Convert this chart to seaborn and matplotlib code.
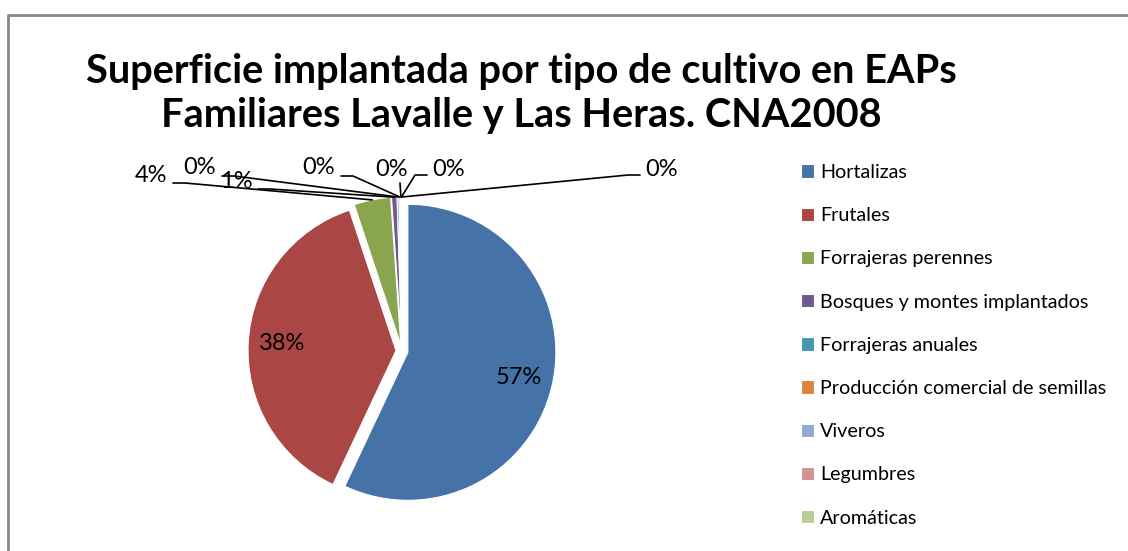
import matplotlib
matplotlib.use("Agg")
import matplotlib.pyplot as plt
import seaborn as sns
import numpy as np

# Data (shares of implanted area, %)
cultivos = ["Hortalizas", "Frutales", "Forrajeras perennes",
            "Bosques y montes implantados", "Forrajeras anuales",
            "Producción comercial de semillas", "Viveros", "Legumbres",
            "Aromáticas"]
superficie = [57.0, 37.9, 4.0, 0.6, 0.2, 0.15, 0.08, 0.04, 0.03]

colores = ["#4572A7", "#AA4643", "#89A54E", "#71588F", "#4198AF",
           "#DB843D", "#93A9CF", "#D19392", "#B9CD96"]

sns.set_style("white")
plt.rcParams['font.family'] = ['Lato', 'DejaVu Sans']
plt.rcParams['text.color'] = 'black'

W, H = 1128, 551
fig = plt.figure(figsize=(W / 100, H / 100), dpi=100)
ax = fig.add_axes([0, 0, 1, 1])

# pie drawn in pixel-like data coords (y up)
cx, cy, r = 402, H - 351, 148
pal = sns.color_palette(colores)
wedges, _ = ax.pie(superficie, colors=pal, startangle=90, counterclock=False,
                   center=(cx, cy), radius=r, explode=[6] * len(superficie),
                   wedgeprops=dict(edgecolor="white", linewidth=0.8))
ax.set_xlim(0, W)
ax.set_ylim(0, H)
ax.set_aspect("equal")
ax.axis("off")

pct = [100 * v / sum(superficie) for v in superficie]

def edge_point(w, frac=1.0):
    th = np.deg2rad((w.theta1 + w.theta2) / 2)
    return w.center[0] + frac * w.r * np.cos(th), w.center[1] + frac * w.r * np.sin(th)

# inside labels for the two big slices
for i in range(2):
    x, y = edge_point(wedges[i], 0.77)
    ax.text(x, y, f"{pct[i]:.0f}%", ha="center", va="center", fontsize=17)

# outside labels with leader lines (text position in px, side of the line)
posiciones = {2: (151, 175, "r"), 3: (236, 181, "r"), 4: (200, 168, "r"),
              5: (319, 168, "r"), 6: (392, 170, "d"), 7: (449, 170, "l"),
              8: (662, 170, "l")}
for i, (tx, ty, side) in posiciones.items():
    ty = H - ty
    ax.text(tx, ty, f"{pct[i]:.0f}%", ha="center", va="center", fontsize=17)
    ex, ey = edge_point(wedges[i])
    if side == "r":
        pts = [(tx + 22, ty - 8), (tx + 34, ty - 8), (ex, ey)]
    elif side == "l":
        pts = [(tx - 22, ty - 5), (tx - 34, ty - 5), (ex, ey)]
    else:
        pts = [(tx + 8, ty - 13), (ex, ey)]
    xs, ys = zip(*pts)
    ax.plot(xs, ys, color="black", lw=1.2)

# title
ax.text(521, H - 71, "Superficie implantada por tipo de cultivo en EAPs",
        ha="center", va="center", fontsize=28.6, fontweight="bold")
ax.text(521, H - 116, "Familiares Lavalle y Las Heras. CNA2008",
        ha="center", va="center", fontsize=28.6, fontweight="bold")

# legend
ax.legend(wedges, cultivos, loc="upper left", bbox_to_anchor=(791 / W, 1 - 154 / H),
          bbox_transform=fig.transFigure, frameon=False, fontsize=14.2,
          handlelength=0.66, handleheight=0.66, handletextpad=0.3,
          labelspacing=1.33, borderpad=0)

# chart frame
ax.plot([8, 8, W], [0, H - 15, H - 15], color="#888888", lw=2, clip_on=False)

fig.savefig("out.png", dpi=100)
